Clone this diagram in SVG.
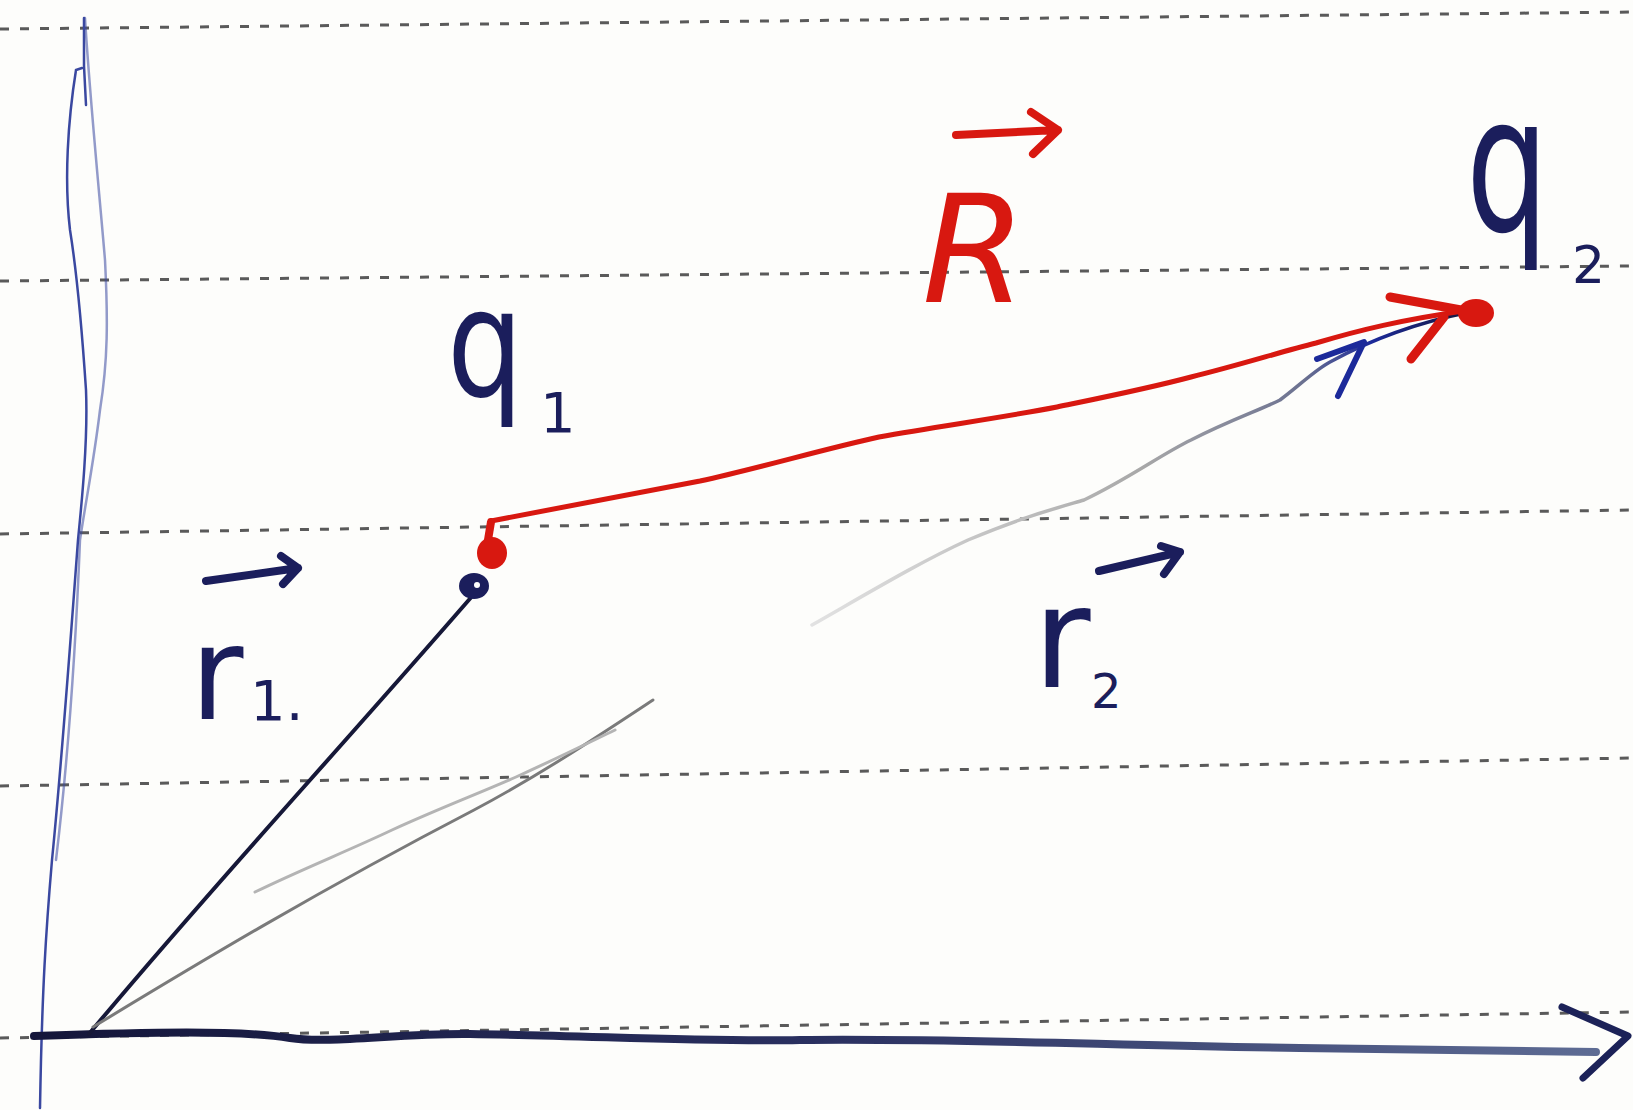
<svg xmlns="http://www.w3.org/2000/svg" width="1633" height="1110" viewBox="0 0 1633 1110">
  <defs>
    <style>
      .rule { fill: none; stroke: #5a5a5a; stroke-width: 3; stroke-dasharray: 9 11; }
      .axis { fill: none; stroke: #3a48a0; stroke-width: 2.5; stroke-linecap: round; }
      .ink { fill: #1b1e5c; font-family: "DejaVu Sans", "Liberation Sans", sans-serif; }
      .red { fill: #d81810; font-family: "DejaVu Sans", "Liberation Sans", sans-serif; }
      .over { fill: none; stroke-width: 8; stroke-linecap: round; stroke-linejoin: round; }
    </style>
    <linearGradient id="xaxisGrad" gradientUnits="userSpaceOnUse" x1="36" y1="0" x2="1600" y2="0">
      <stop offset="0" stop-color="#14163a"/>
      <stop offset="0.5" stop-color="#2a3060"/>
      <stop offset="1" stop-color="#5e6c94"/>
    </linearGradient>
    <linearGradient id="r2Grad" gradientUnits="userSpaceOnUse" x1="812" y1="0" x2="1470" y2="0">
      <stop offset="0" stop-color="#e2e2e2"/>
      <stop offset="0.5" stop-color="#a8a8a8"/>
      <stop offset="0.75" stop-color="#6a7090"/>
      <stop offset="0.85" stop-color="#1c2a9a"/>
      <stop offset="1" stop-color="#15183a"/>
    </linearGradient>
  </defs>
  <rect x="0" y="0" width="1633" height="1110" fill="#fdfdfb"/>

  <g id="ruled-lines">
    <line class="rule" x1="0" y1="29" x2="1633" y2="12"/>
    <line class="rule" x1="0" y1="281" x2="1633" y2="266"/>
    <line class="rule" x1="0" y1="534" x2="1633" y2="510"/>
    <line class="rule" x1="0" y1="786" x2="1633" y2="758"/>
    <line class="rule" x1="0" y1="1038" x2="1633" y2="1012"/>
  </g>

  <g id="axes">
    <g id="y-axis">
      <path class="axis" d="M 82 68 L 76 70 C 68 120, 64 180, 70 230 C 78 280, 82 330, 86 390 C 88 440, 82 500, 78 540 C 72 620, 62 760, 52 860 C 46 930, 42 990, 40 1108"/>
      <path class="axis" stroke-opacity="0.55" d="M 85 18 C 90 100, 100 200, 105 260 C 108 320, 108 360, 100 410 C 94 460, 86 500, 80 540 C 76 640, 68 760, 56 860"/>
      <path class="axis" d="M 84 18 L 84 66 L 86 105"/>
    </g>
    <g id="x-axis">
      <path fill="none" stroke="url(#xaxisGrad)" stroke-width="8" stroke-linecap="round" d="M 34 1036 C 150 1032, 240 1030, 290 1038 C 330 1044, 400 1033, 470 1034 C 600 1036, 700 1042, 800 1040 C 950 1038, 1100 1045, 1300 1048 L 1596 1052"/>
      <path fill="none" stroke="#1c2258" stroke-width="7" stroke-linecap="round" stroke-linejoin="round" d="M 1562 1007 L 1628 1036 L 1583 1078"/>
    </g>
  </g>

  <g id="connectors">
    <g id="vector-r1">
      <path fill="none" stroke="#161838" stroke-width="4" stroke-linecap="round" d="M 89 1034 C 200 900, 330 760, 474 594"/>
    </g>
    <g id="construction-lines">
      <path fill="none" stroke="#7a7a7a" stroke-width="3" stroke-linecap="round" d="M 93 1027 C 200 962, 320 890, 474 810 C 540 775, 600 735, 653 700"/>
      <path fill="none" stroke="#b4b4b4" stroke-width="3" stroke-linecap="round" d="M 255 892 C 300 870, 350 850, 392 830 C 440 808, 480 793, 516 777 C 560 757, 590 742, 615 730"/>
    </g>
    <g id="vector-r2">
      <path fill="none" stroke="url(#r2Grad)" stroke-width="3.5" stroke-linecap="round" d="M 812 625 C 870 592, 920 562, 968 540 C 1020 518, 1050 510, 1084 500 C 1130 478, 1160 455, 1191 440 C 1230 420, 1260 410, 1280 400 C 1300 385, 1315 370, 1330 362 C 1370 340, 1420 322, 1470 312"/>
      <path fill="none" stroke="#1c2a9a" stroke-width="6" stroke-linecap="round" stroke-linejoin="round" d="M 1317 359 L 1364 342 L 1338 396"/>
    </g>
    <g id="vector-R">
      <path fill="none" stroke="#d81810" stroke-width="5" stroke-linecap="round" d="M 491 521 C 540 512, 600 500, 700 481 C 760 468, 820 450, 879 437 C 940 426, 1000 418, 1057 407 C 1110 396, 1150 388, 1191 377 C 1240 365, 1280 352, 1316 343 C 1360 330, 1400 320, 1470 310"/>
      <path fill="none" stroke="#d81810" stroke-width="9" stroke-linecap="round" stroke-linejoin="round" d="M 1390 297 L 1472 312 M 1411 359 L 1444 317"/>
      <ellipse cx="1476" cy="313" rx="18" ry="14" fill="#d81810"/>
    </g>
  </g>

  <g id="q1">
    <path d="M 491 522 L 488 540" fill="none" stroke="#d81810" stroke-width="8" stroke-linecap="round"/>
    <ellipse cx="492" cy="553" rx="15" ry="16" fill="#d81810"/>
    <ellipse cx="474" cy="586" rx="15" ry="13" fill="#1b1e5c"/>
    <circle cx="477" cy="585" r="3" fill="#ffffff"/>
    <text class="ink" transform="translate(447,396) scale(1,1.25)" x="0" y="0" font-size="120">q</text>
    <text class="ink" x="540" y="432" font-size="56">1</text>
  </g>

  <g id="q2">
    <text class="ink" transform="translate(1466,231) scale(1,1.45)" x="0" y="0" font-size="130">q</text>
    <text class="ink" x="1572" y="283" font-size="52">2</text>
  </g>

  <g id="label-R">
    <path class="over" stroke="#d81810" d="M 956 135 L 1058 130 M 1031 112 L 1058 130 L 1033 154"/>
    <text class="red" x="922" y="302" font-size="150" font-style="italic">R</text>
  </g>

  <g id="label-r1">
    <path class="over" stroke="#1b1e5c" d="M 206 581 L 298 568 M 281 556 L 298 568 L 283 584"/>
    <text class="ink" x="190" y="719" font-size="130">r</text>
    <text class="ink" x="250" y="720" font-size="56">1.</text>
  </g>

  <g id="label-r2">
    <path class="over" stroke="#1b1e5c" d="M 1099 571 L 1180 552 M 1161 546 L 1180 552 L 1164 574"/>
    <text class="ink" x="1033" y="687" font-size="140">r</text>
    <text class="ink" x="1091" y="708" font-size="48">2</text>
  </g>
</svg>
